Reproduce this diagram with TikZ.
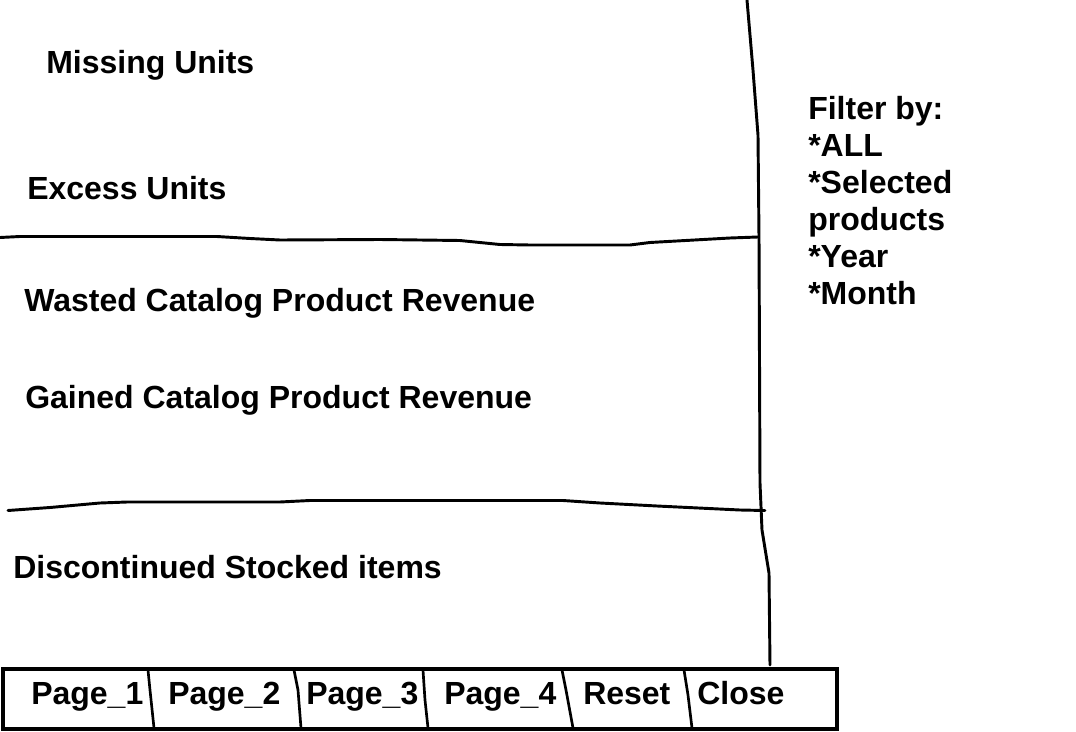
\documentclass[tikz,border=0pt]{standalone}
\usepackage{fontspec}
\setmainfont{Liberation Sans}
\begin{document}
\begin{tikzpicture}[x=0.75pt,y=-0.75pt,
  lbl/.style={anchor=base west,inner sep=0pt,font=\fontsize{24pt}{27.75pt}\selectfont\bfseries},
  sketch/.style={line width=2.2pt,line join=round,line cap=round},
  barline/.style={line width=2pt,line cap=round}]
\useasboundingbox (0,0) rectangle (1076,732);
% vertical divider
\draw[sketch] (747,0) -- (753,70) -- (758,135) -- (759,237) -- (760,483) -- (762,530) -- (769,573) -- (770,665);
% horizontal lines
\draw[sketch] (0,237.5) -- (20,236.5) -- (217,236.5) -- (250,238.5) -- (280,240) -- (380,239.5) -- (460,240.5) -- (480,242.5) -- (500,244.5) -- (530,245) -- (630,245) -- (650,242.5) -- (730,238) -- (758,237);
\draw[sketch] (8,510.5) -- (50,507.5) -- (100,503) -- (127,502) -- (280,502) -- (310,500.5) -- (563,500.5) -- (600,503) -- (657,506) -- (740,510) -- (765,510.5);
% texts
\node[lbl] (missing) at (46,73) {Missing Units};
\node[lbl] (excess) at (27,199) {Excess Units};
\node[lbl] (wasted) at (24,311) {Wasted Catalog Product Revenue};
\node[lbl] (gained) at (25,408) {Gained Catalog Product Revenue};
\node[lbl] (disc) at (13,578) {Discontinued Stocked items};
\node[lbl,anchor=north west,align=left] (filter) at (808,96) {Filter by:\\*ALL\\*Selected\\products\\*Year\\*Month};
% bottom bar
\draw[line width=3pt] (3,669) rectangle (837,729);
\draw[barline] (148,670) -- (150,690) -- (154,728);
\draw[barline] (294,670) -- (298,690) -- (301,728);
\draw[barline] (423,670) -- (425,700) -- (428,728);
\draw[barline] (562,670) -- (566,690) -- (573,728);
\draw[barline] (684,670) -- (688,695) -- (692,728);
\node[lbl] (p1) at (31,704) {Page\_1};
\node[lbl] (p2) at (168,704) {Page\_2};
\node[lbl] (p3) at (306,704) {Page\_3};
\node[lbl] (p4) at (444,704) {Page\_4};
\node[lbl] (reset) at (583,704) {Reset};
\node[lbl] (close) at (697,704) {Close};
\end{tikzpicture}
\end{document}
